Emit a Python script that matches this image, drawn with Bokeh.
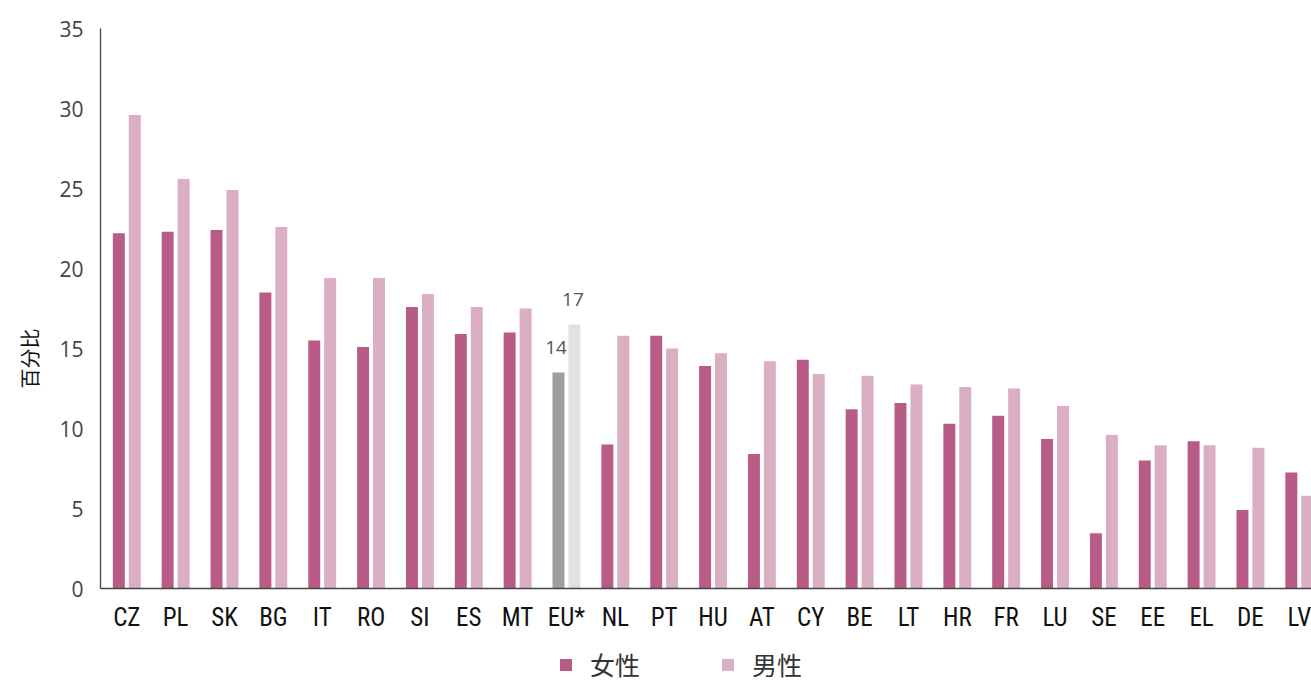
import math
from bokeh.plotting import figure
from bokeh.layouts import column
from bokeh.models import (Range1d, FixedTicker, Legend, LegendItem, Title,
                          ColumnDataSource)
from bokeh.transform import dodge
from bokeh.core.properties import value
from bokeh.embed import file_html
from bokeh.resources import INLINE

# ---------------- data ----------------
countries = ["CZ", "PL", "SK", "BG", "IT", "RO", "SI", "ES", "MT", "EU*",
             "NL", "PT", "HU", "AT", "CY", "BE", "LT", "HR", "FR", "LU",
             "SE", "EE", "EL", "DE", "LV"]
female = [22.2, 22.3, 22.4, 18.5, 15.5, 15.1, 17.6, 15.9, 16.0, 13.5,
          9.0, 15.8, 13.9, 8.4, 14.3, 11.2, 11.6, 10.3, 10.8, 9.35,
          3.45, 8.0, 9.2, 4.9, 7.25]
male = [29.6, 25.6, 24.9, 22.6, 19.4, 19.4, 18.4, 17.6, 17.5, 16.5,
        15.8, 15.0, 14.7, 14.2, 13.4, 13.3, 12.75, 12.6, 12.5, 11.4,
        9.6, 8.95, 8.95, 8.8, 5.8]
eu_name = "EU*"
eu_labels = ["14", "17"]
y_ticks = [0, 5, 10, 15, 20, 25, 30, 35]
series_names = ["女性", "男性"]
y_title = "百分比"

# ---------------- styles ----------------
C_F, C_M = "#B85C87", "#DAAEC3"
C_F_EU, C_M_EU = "#9E9E9E", "#E1E1E1"
W = 1311

xs = list(range(len(countries)))
src = ColumnDataSource(dict(
    x=xs, cat=countries, female=female, male=male,
    fcol=[C_F_EU if c == eu_name else C_F for c in countries],
    mcol=[C_M_EU if c == eu_name else C_M for c in countries],
))

p = figure(width=W, height=646, output_backend="svg", toolbar_location=None,
           x_range=Range1d(-0.538, 24.25), y_range=Range1d(0, 35),
           min_border_left=100, min_border_right=0, min_border_top=28,
           min_border_bottom=58)
p.outline_line_color = None
p.xgrid.visible = False
p.ygrid.visible = False

w = 0.245
rf = p.vbar(x=dodge("x", -0.163, range=p.x_range), top="female", width=w,
            source=src, fill_color="fcol", line_color=None)
rm = p.vbar(x=dodge("x", 0.163, range=p.x_range), top="male", width=w,
            source=src, fill_color="mcol", line_color=None)

# EU value labels
ei = countries.index(eu_name)
lab_src = ColumnDataSource(dict(
    x=[ei - 0.163 - 0.05, ei + 0.163 - 0.03], y=[female[ei], male[ei]], t=eu_labels))
p.text(x="x", y="y", text="t", source=lab_src, text_align="center",
       text_baseline="alphabetic", y_offset=-25,
       text_font=value("Open Sans"), text_font_size="19px", text_color="#555555")

# axes
p.yaxis.ticker = FixedTicker(ticks=y_ticks)
p.yaxis.major_tick_line_color = None
p.yaxis.minor_tick_line_color = None
p.yaxis.axis_line_color = "#444444"
p.yaxis.axis_line_width = 1.3
p.yaxis.major_label_text_font = "Open Sans"
p.yaxis.major_label_text_font_size = "21px"
p.yaxis.major_label_text_color = "#444444"
p.yaxis.major_label_standoff = 11

p.xaxis.ticker = FixedTicker(ticks=xs)
p.xaxis.major_label_overrides = {float(i): c for i, c in enumerate(countries)}
p.xaxis.major_tick_line_color = None
p.xaxis.minor_tick_line_color = None
p.xaxis.axis_line_color = "#444444"
p.xaxis.axis_line_width = 1.3
p.xaxis.major_label_text_font = "'Liberation Sans Narrow', 'Roboto Condensed', Roboto, sans-serif"
p.xaxis.major_label_text_font_size = "25px"
p.xaxis.major_label_text_color = "#111111"
p.xaxis.major_label_standoff = 8

# y title
p.add_layout(Title(text=y_title, align="left", offset=200, standoff=25,
                   text_font="Noto Sans CJK SC", text_font_size="20px",
                   text_font_style="normal", text_color="#111111"), "left")

# legend strip
lg = figure(width=W, height=36, output_backend="svg", toolbar_location=None,
            x_range=Range1d(0, 1), y_range=Range1d(0, 1),
            min_border_left=0, min_border_right=0, min_border_top=0,
            min_border_bottom=0)
lg.axis.visible = False
lg.grid.visible = False
lg.outline_line_color = None
proxy = ColumnDataSource(dict(x=[0.5], top=[0.0]))
lf = lg.vbar(x="x", top="top", width=0.01, source=proxy, fill_color=C_F, line_color=None)
lm = lg.vbar(x="x", top="top", width=0.01, source=proxy, fill_color=C_M, line_color=None)
legend = Legend(items=[LegendItem(label=series_names[0], renderers=[lf], index=0),
                       LegendItem(label=series_names[1], renderers=[lm], index=0)],
                orientation="horizontal", location=(458, 0),
                glyph_width=15, glyph_height=15, label_standoff=17, spacing=80,
                padding=0, margin=0, border_line_color=None,
                background_fill_alpha=0,
                label_text_font="Noto Sans CJK SC", label_text_font_size="25px",
                label_text_color="#333333")
lg.add_layout(legend, "center")

open("out.html", "w").write(file_html(column(p, lg, spacing=0), INLINE))
